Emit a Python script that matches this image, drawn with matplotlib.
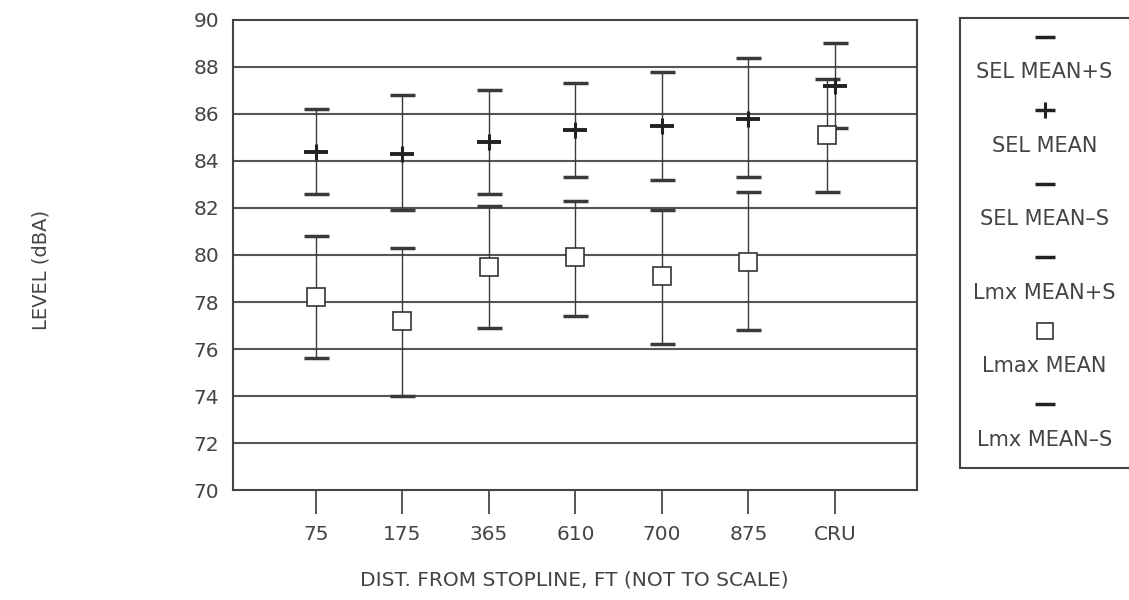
import numpy as np
import matplotlib
matplotlib.use('Agg')
import matplotlib.pyplot as plt

plt.rcParams['font.family'] = ['DejaVu Sans']
txt_color = '#444444'
ln_color = '#3a3a3a'

# values (dBA)
sites = ['75', '175', '365', '610', '700', '875', 'CRU']
sel_mean = [84.4, 84.3, 84.8, 85.3, 85.5, 85.8, 87.2]
sel_plus = [86.2, 86.8, 87.0, 87.3, 87.8, 88.4, 89.0]
sel_minus = [82.6, 81.9, 82.6, 83.3, 83.2, 83.3, 85.4]
lmax_mean = [78.2, 77.2, 79.5, 79.9, 79.1, 79.7, 85.1]
lmax_plus = [80.8, 80.3, 82.1, 82.3, 81.9, 82.7, 87.5]
lmax_minus = [75.6, 74.0, 76.9, 77.4, 76.2, 76.8, 82.7]

x = np.arange(1, len(sites) + 1, dtype=float)
x_sel = x.copy()
x_lmax = x.copy()
x_lmax[-1] -= 0.09  # CRU bars drawn side by side

fig = plt.figure(figsize=(11.29, 6.0), dpi=100)
ax = fig.add_axes([0.2064, 0.1833, 0.6058, 0.7834])

for y in np.arange(72, 90, 2):
    ax.axhline(y, color='#555555', lw=1.5, zorder=1)

sm = np.array(sel_mean)
lm = np.array(lmax_mean)
ax.errorbar(x_sel, sm, yerr=[sm - np.array(sel_minus), np.array(sel_plus) - sm],
            fmt='none', ecolor=ln_color, elinewidth=1.0, capsize=9, capthick=2.5, zorder=3)
ax.errorbar(x_lmax, lm, yerr=[lm - np.array(lmax_minus), np.array(lmax_plus) - lm],
            fmt='none', ecolor=ln_color, elinewidth=1.0, capsize=9, capthick=2.5, zorder=3)
# SEL mean "+": wide bar, short stem
ax.plot(x_sel, sm, ls='none', marker='_', ms=17, mew=2.8, color='#222222', zorder=4)
ax.plot(x_sel, sm, ls='none', marker='|', ms=12, mew=2.2, color='#222222', zorder=4)
ax.plot(x_lmax, lm, ls='none', marker='s', ms=13, mew=1.2, mfc='white', mec='#333333', zorder=4)

ax.set_xlim(0.04, 7.95)
ax.set_ylim(70, 90)
ax.set_yticks(np.arange(70, 91, 2))
ax.set_xticks(x)
ax.set_xticklabels(sites)
ax.tick_params(axis='y', length=0, pad=10, labelsize=14.5, labelcolor=txt_color)
ax.tick_params(axis='x', length=17, width=1.2, color=ln_color, pad=8,
               labelsize=14.5, labelcolor=txt_color)
for s in ax.spines.values():
    s.set_color('#444444')
    s.set_linewidth(1.5)

fig.text(0.509, 0.033, 'DIST. FROM STOPLINE, FT (NOT TO SCALE)', ha='center', va='center',
         fontsize=14.5, color=txt_color)
fig.text(0.036, 0.55, 'LEVEL (dBA)', rotation=90, ha='center', va='center',
         fontsize=14, color=txt_color)

# legend panel: symbol above each label
lg = fig.add_axes([0.8503, 0.22, 0.156, 0.75])
lg.set_xlim(0, 1)
lg.set_ylim(0, 1)
lg.set_xticks([])
lg.set_yticks([])
for s in lg.spines.values():
    s.set_color('#444444')
    s.set_linewidth(1.5)

leg_labels = ['SEL MEAN+S', 'SEL MEAN', 'SEL MEAN\u2013S',
              'Lmx MEAN+S', 'Lmax MEAN', 'Lmx MEAN\u2013S']
leg_marks = ['_', '+', '_', '_', 's', '_']
cx = 0.48
for i, (lab, mk) in enumerate(zip(leg_labels, leg_marks)):
    ym = 1 - (0.042 + i * 0.1633)
    yt = ym - 0.079
    if mk == 's':
        lg.plot(cx, ym, marker='s', ms=11, mfc='white', mec='#333333', mew=1.2)
    elif mk == '+':
        lg.plot(cx, ym, marker='_', ms=14, mew=2.5, color='#222222')
        lg.plot(cx, ym, marker='|', ms=12, mew=2.2, color='#222222')
    else:
        lg.plot(cx, ym, marker='_', ms=14, mew=2.5, color='#222222')
    lg.text(cx, yt, lab, ha='center', va='center', fontsize=15, color=txt_color)

fig.savefig('out.png', dpi=100, facecolor='white')
